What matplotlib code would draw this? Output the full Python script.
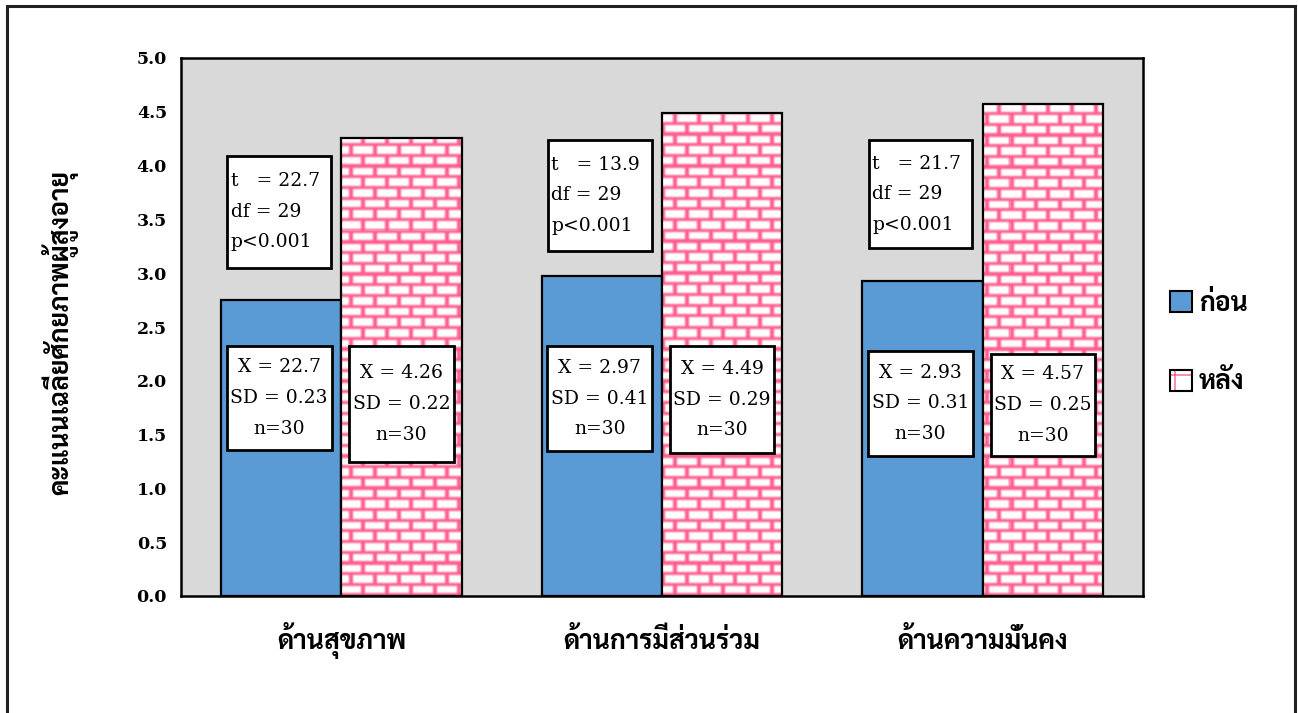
import numpy as np
import matplotlib
matplotlib.use("Agg")
import matplotlib.pyplot as plt
from matplotlib import font_manager
from matplotlib.ft2font import FT2Font
from matplotlib.patches import Rectangle, Patch
from matplotlib.legend_handler import HandlerTuple

# mean scores per domain, before / after the programme
categories = ["ด้านสุขภาพ", "ด้านการมีส่วนร่วม", "ด้านความมั่นคง"]
before = [2.75, 2.97, 2.93]
after = [4.26, 4.49, 4.57]
before_mean_text = ["22.7", "2.97", "2.93"]
after_mean_text = ["4.26", "4.49", "4.57"]
before_sd = ["0.23", "0.41", "0.31"]
after_sd = ["0.22", "0.29", "0.25"]
n_obs = [30, 30, 30]
t_values = ["22.7", "13.9", "21.7"]
df_values = [29, 29, 29]
p_text = ["p<0.001", "p<0.001", "p<0.001"]
series_names = ["ก่อน", "หลัง"]


def thai_family():
    """installed font with Thai glyphs, a family with a bold face first"""
    weights = {}
    for f in font_manager.fontManager.ttflist:
        try:
            if 0x0E01 in FT2Font(f.fname).get_charmap():
                wt = f.weight if isinstance(f.weight, int) else 400
                weights.setdefault(f.name, set()).add(wt)
        except Exception:
            pass
    bold = [n for n, ws in weights.items() if max(ws) >= 600]
    for pref in ["Noto Sans Thai", "Noto Sans Thai UI", "Sarabun", "Loma", "Garuda"]:
        if pref in bold:
            return pref
    if bold:
        return bold[0]
    return next(iter(weights), "DejaVu Sans")


THAI = [thai_family(), "DejaVu Sans"]
SERIF = ["DejaVu Serif"]

BLUE = "#5b9bd5"
PINK = "#ff5c8d"
GRAY = "#d9d9d9"

fig = plt.figure(figsize=(12.98, 7.13), dpi=100)
ax = fig.add_axes([181 / 1298, 117 / 713, 962 / 1298, 538 / 713])
ax.set_facecolor(GRAY)

x = np.arange(len(categories))
w = 0.375
XLIM = (-0.5, 2.5)
YLIM = (0, 5)

ax.bar(x - w / 2, before, w, color=BLUE, edgecolor="black", linewidth=1.6, zorder=2)
after_bars = ax.bar(x + w / 2, after, w, color="white", edgecolor="none", zorder=2)

# brick texture in screen pixels, softened a little
H, W = 538, 962
yy, xx = np.mgrid[0:H, 0:W]
row_h = 10.7
row = np.floor(yy / row_h).astype(int)
in_row = yy - row * row_h
shift = (row % 2) * 12
mortar = (in_row < 3.2) | (((xx + shift) % 24) < 3.2)
tex = np.ones((H, W, 3))
tex[mortar] = np.array(matplotlib.colors.to_rgb(PINK))
k = 2
pad = np.pad(tex, ((k, k), (k, k), (0, 0)), mode="edge")
blur = np.zeros_like(tex)
wsum = 0.0
for dy in range(-k, k + 1):
    for dx in range(-k, k + 1):
        wt = np.exp(-(dx * dx + dy * dy) / 2.0)
        blur += wt * pad[k + dy:k + dy + H, k + dx:k + dx + W]
        wsum += wt
tex = np.clip(blur / wsum, 0, 1)

for bar in after_bars:
    im = ax.imshow(tex, extent=(XLIM[0], XLIM[1], YLIM[0], YLIM[1]),
                   origin="upper", aspect="auto", interpolation="nearest", zorder=2.2)
    im.set_clip_path(bar)
ax.bar(x + w / 2, after, w, color="none", edgecolor="black", linewidth=1.6, zorder=2.5)

ax.set_xlim(*XLIM)
ax.set_ylim(*YLIM)

# text boxes: (left, right) offsets from category centre, (top, bottom) per group
t_box_x = (-0.355, -0.032)
t_box_y = [(4.09, 3.05), (4.24, 3.21), (4.24, 3.23)]
b_box_x = (-0.358, -0.030)
b_box_y = [(2.32, 1.36), (2.32, 1.35), (2.28, 1.30)]
a_box_x = (0.025, 0.350)
a_box_y = [(2.32, 1.25), (2.32, 1.33), (2.25, 1.30)]


def box(x0, x1, y_top, y_bot, text, ha="center"):
    ax.add_patch(Rectangle((x0, y_bot), x1 - x0, y_top - y_bot, facecolor="white",
                           edgecolor="black", linewidth=2.0, zorder=4))
    tx = (x0 + x1) / 2 if ha == "center" else x0 + 0.01
    ax.text(tx, (y_top + y_bot) / 2, text, ha=ha, va="center", family=SERIF,
            fontsize=13.5, linespacing=1.9, zorder=5)


for i, c in enumerate(x):
    box(c + t_box_x[0], c + t_box_x[1], *t_box_y[i],
        f"t   = {t_values[i]}\ndf = {df_values[i]}\n{p_text[i]}", ha="left")
    box(c + b_box_x[0], c + b_box_x[1], *b_box_y[i],
        f"X = {before_mean_text[i]}\nSD = {before_sd[i]}\nn={n_obs[i]}")
    box(c + a_box_x[0], c + a_box_x[1], *a_box_y[i],
        f"X = {after_mean_text[i]}\nSD = {after_sd[i]}\nn={n_obs[i]}")

ax.set_yticks(np.arange(0, 5.01, 0.5))
ax.set_yticklabels([f"{v:.1f}" for v in np.arange(0, 5.01, 0.5)],
                   family=["DejaVu Serif"], fontweight="bold", fontsize=12.5)
ax.set_xticks(x)
ax.set_xticklabels(categories, family=THAI, fontweight="bold", fontsize=19)
for lbl in ax.get_xticklabels():
    lbl.set_verticalalignment("baseline")
ax.tick_params(axis="y", length=0, pad=10)
ax.tick_params(axis="x", length=0, pad=38)
for s in ax.spines.values():
    s.set_linewidth(1.8)

ax.set_ylabel("คะแนนเฉลี่ยศักยภาพผู้สูงอายุ", family=THAI, fontweight="bold", fontsize=19)
ax.yaxis.set_label_coords(-0.107, 0.49)

# legend
h_before = Patch(facecolor=BLUE, edgecolor="black", linewidth=1.5)
h_after = (Patch(facecolor="white", edgecolor=PINK, hatch="+", linewidth=0),
           Patch(facecolor="none", edgecolor="black", linewidth=1.5))
fig.legend([h_before, h_after], series_names, handler_map={tuple: HandlerTuple(ndivide=1)},
           loc="center left", bbox_to_anchor=(1146 / 1298, 1 - 343 / 713), frameon=False,
           prop={"family": THAI, "weight": "bold", "size": 19},
           handlelength=0.85, handleheight=0.85, handletextpad=0.25, labelspacing=2.0)

# outer frame
fig.add_artist(Rectangle((7 / 1298, -0.02), 1288 / 1298, 1.02 - 6 / 713,
                         transform=fig.transFigure, facecolor="none",
                         edgecolor="#222222", linewidth=2.2))

fig.savefig("out.png", dpi=100)
